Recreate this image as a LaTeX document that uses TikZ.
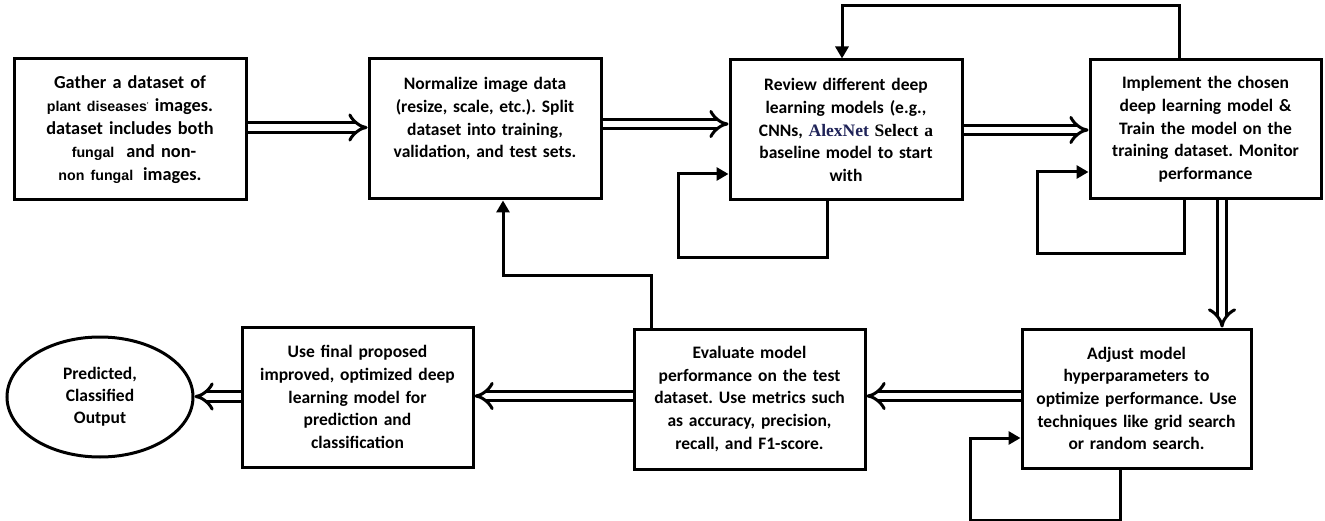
\documentclass[tikz,border=0pt]{standalone}
\usepackage{fontspec}
\setmainfont{Carlito}
\newfontfamily\arialb{Liberation Sans}
\newfontfamily\timesb{Liberation Serif}
\usetikzlibrary{arrows.meta,shapes.geometric}
\definecolor{navy}{HTML}{1F2358}
\frenchspacing
\begin{document}
\begin{tikzpicture}[x=1pt,y=-1pt,
  box/.style={draw, line width=3pt, minimum width=232pt, minimum height=140pt, inner sep=0pt,
     align=center, text width=226pt, font=\bfseries\fontsize{17.5}{22.7}\selectfont},
  oval/.style={draw, ellipse, line width=3pt, minimum width=186pt, minimum height=120pt, inner sep=0pt,
     align=center, font=\bfseries\fontsize{17.5}{22.2}\selectfont},
  dbl/.style={double, double distance=6.5pt, line width=3pt, -{Implies[scale=1.6]}},
  fb/.style={line width=3pt, -{Triangle[length=12pt,width=13pt]}}]
\useasboundingbox[fill=white] (0,0) rectangle (1325,521);

\node[box, minimum height=141pt, font=\bfseries\fontsize{18.3}{23}\selectfont] (B1) at (130,129.5)
  {Gather a dataset of\\
   {\arialb\bfseries\fontsize{14.2}{16}\selectfont plant diseases}\raisebox{4pt}{\fontsize{7}{8}\selectfont'} images.\\
   dataset includes both\\
   \hspace*{8pt}{\arialb\bfseries\fontsize{14.2}{16}\selectfont fungal}\hspace{12pt}and non-\\
   {\arialb\bfseries\fontsize{14.2}{16}\selectfont non fungal}\hspace{10pt}images.};
\node[box] (B2) at (485,129)
  {Normalize image data\\ (resize, scale, etc.). Split\\ dataset into training,\\ validation, and test sets.\\ \mbox{}};
\node[box] (B3) at (846,130)
  {Review different deep\\ learning models (e.g.,\\ CNNs, {\timesb\bfseries\color{navy}AlexNet} {\timesb\bfseries Select a}\\ baseline model to start\\ with};
\node[box, minimum width=231pt, minimum height=139pt] (B4) at (1205.5,129.5)
  {Implement the chosen\\ deep learning model \&\\ Train the model on the\\ training dataset. Monitor\\ performance};
\node[box, minimum width=229pt, minimum height=139pt] (B5) at (1136.5,398.5)
  {Adjust model\\ hyperparameters to\\ optimize performance. Use\\ techniques like grid search\\ or random search.};
\node[box, minimum width=231pt] (B6) at (749.5,399)
  {Evaluate model\\ performance on the test\\ dataset. Use metrics such\\ as accuracy, precision,\\ recall, and F1-score.};
\node[box, minimum width=231pt] (B7) at (357.5,397)
  {Use final proposed\\ improved, optimized deep\\ learning model for\\ prediction and\\ classification};
\node[oval] (E) at (100,397) {Predicted,\\ Classified\\ Output};

% main flow (hollow double arrows)
\draw[dbl] ([yshift=2pt]B1.east) -- ([yshift=2pt]B1.east -| B2.west);
\draw[dbl] ([yshift=5pt]B2.east) -- ([yshift=5pt]B2.east -| B3.west);
\draw[dbl] (B3.east) -- (B3.east -| B4.west);
\draw[dbl] ([xshift=16.5pt]B4.south) -- ([xshift=16.5pt]B4.south |- B5.north);
\draw[dbl] ([yshift=2.5pt]B5.west) -- ([yshift=2.5pt]B5.west -| B6.east);
\draw[dbl] ([yshift=3pt]B6.west) -- ([yshift=3pt]B6.west -| B7.east);
\draw[dbl] ([yshift=0.5pt]B7.west) -- ([yshift=0.5pt]B7.west -| E.east);

% feedback connectors
\draw[fb] ([xshift=-26.5pt]B4.north) -- ++(0,-53) -| ([xshift=-4pt]B3.north);
\draw[fb] ([xshift=-19pt]B3.south) -- ++(0,56) -| ([xshift=-50pt,yshift=-44pt]B3.west) -- ([yshift=-44pt]B3.west);
\draw[fb] ([xshift=-21.5pt]B4.south) -- ++(0,53) -| ([xshift=-51pt,yshift=-42.5pt]B4.west) -- ([yshift=-42.5pt]B4.west);
\draw[fb] ([xshift=-16.5pt]B5.south) -- ++(0,51) -| ([xshift=-50pt,yshift=-39.5pt]B5.west) -- ([yshift=-39.5pt]B5.west);
\draw[fb] ([xshift=-98.5pt]B6.north) -- ++(0,-52) -| ([xshift=18pt]B2.south);
\end{tikzpicture}
\end{document}
